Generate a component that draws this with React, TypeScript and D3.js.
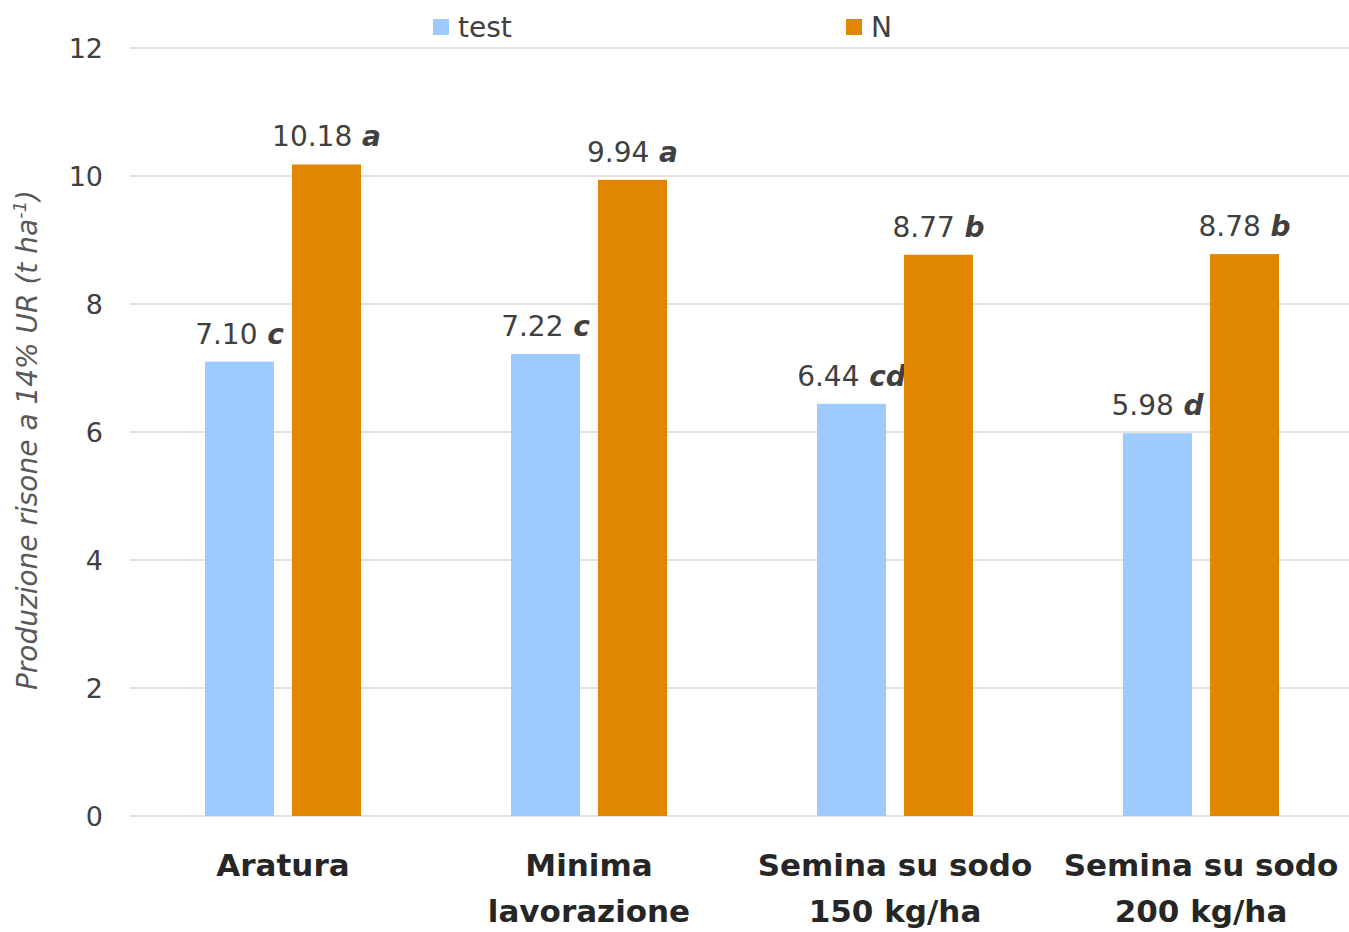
import * as React from 'react'
import * as d3 from 'd3'

const categories = [['Aratura'], ['Minima', 'lavorazione'], ['Semina su sodo', '150 kg/ha'], ['Semina su sodo', '200 kg/ha']]
const seriesNames = ['test', 'N']
const testValues = [7.10, 7.22, 6.44, 5.98]
const nValues = [10.18, 9.94, 8.77, 8.78]
const testLetters = ['c', 'c', 'cd', 'd']
const nLetters = ['a', 'a', 'b', 'b']
const yTicks = [0, 2, 4, 6, 8, 10, 12]

const colors = ['#9DCBFF', '#E08600']
const width = 1349
const height = 932
const left = 130
const top = 48
const bottom = 816

const App = () => {
  const x = d3.scaleBand<number>().domain(d3.range(categories.length)).range([left, left + 4 * 306])
  const inner = d3.scaleBand<string>().domain(seriesNames).range([75, 231]).paddingInner(18 / 87)
  const y = d3.scaleLinear().domain([0, 12]).range([bottom, top])
  const series = [
    { name: 'test', values: testValues, letters: testLetters },
    { name: 'N', values: nValues, letters: nLetters },
  ]
  const font = '"DejaVu Sans", sans-serif'

  return (
    <svg width={width} height={height} style={{ position: 'absolute', left: 0, top: 0, background: '#fff' }} fontFamily={font}>
      {/* grid */}
      {yTicks.map(t => (
        <g key={t}>
          <line x1={left} x2={width} y1={y(t)} y2={y(t)} stroke="#d9d9d9" strokeWidth={1.3} />
          <text x={103} y={y(t)} dy="0.36em" textAnchor="end" fontSize={27} fill="#404040">{t}</text>
        </g>
      ))}
      {/* bars */}
      {series.map((s, si) => (
        <g key={s.name}>
          {s.values.map((v, i) => {
            const bx = (x(i) as number) + (inner(s.name) as number)
            return (
              <g key={i}>
                <rect x={bx} y={y(v)} width={inner.bandwidth()} height={y(0) - y(v)} fill={colors[si]} />
                <text x={bx + inner.bandwidth() / 2} y={y(v) - 18} textAnchor="middle" fontSize={28} fill="#404040">
                  {v.toFixed(2)}
                  <tspan fontWeight="bold" fontStyle="italic">{' ' + s.letters[i]}</tspan>
                </text>
              </g>
            )
          })}
        </g>
      ))}
      {/* x labels */}
      {categories.map((lines, i) => (
        <text key={i} textAnchor="middle" fontSize={31} fontWeight="bold" fill="#262626">
          {lines.map((l, j) => (
            <tspan key={j} x={(x(i) as number) + x.bandwidth() / 2} y={876 + j * 46}>{l}</tspan>
          ))}
        </text>
      ))}
      {/* y title */}
      <text transform={`translate(37, 440) rotate(-90)`} textAnchor="middle" fontSize={28} fontStyle="italic" fill="#595959">
        Produzione risone a 14% UR (t ha
        <tspan fontSize={18} dy={-11}>-1</tspan>
        <tspan dy={11}>)</tspan>
      </text>
      {/* legend */}
      {seriesNames.map((n, i) => {
        const lx = [433, 846][i]
        return (
          <g key={n}>
            <rect x={lx} y={19} width={16} height={16} fill={colors[i]} />
            <text x={lx + 25} y={27} dy="0.36em" fontSize={28} fill="#404040">{n}</text>
          </g>
        )
      })}
    </svg>
  )
}

export default App
